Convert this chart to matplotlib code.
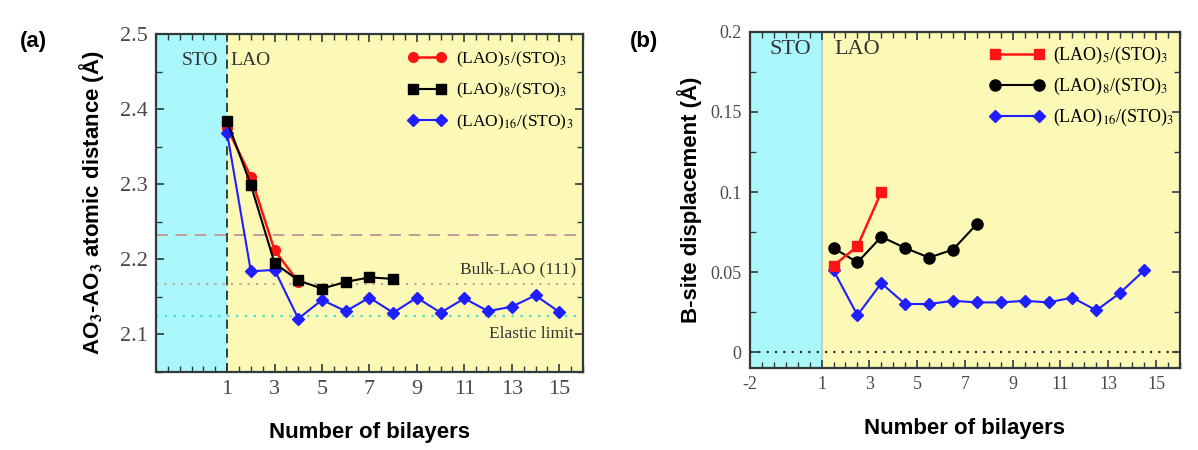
import matplotlib
matplotlib.use("Agg")
from matplotlib import pyplot as plt
from matplotlib.ticker import MultipleLocator

plt.rcParams['mathtext.fontset'] = 'stix'
plt.rcParams['axes.unicode_minus'] = False

# panel (a): AO3-AO3 atomic distance
a_x5 = [1, 2, 3, 4]
a_y5 = [2.375, 2.310, 2.212, 2.170]
a_x8 = [1, 2, 3, 4, 5, 6, 7, 8]
a_y8 = [2.384, 2.299, 2.195, 2.172, 2.161, 2.170, 2.176, 2.174]
a_x16 = list(range(1, 16))
a_y16 = [2.368, 2.184, 2.186, 2.121, 2.146, 2.131, 2.149, 2.129,
         2.149, 2.129, 2.148, 2.131, 2.137, 2.152, 2.130]
a_ref_dashed = 2.233
a_ref_bulk = 2.167
a_ref_elastic = 2.125

# panel (b): B-site displacement
b_x5 = [1.5, 2.5, 3.5]
b_y5 = [0.054, 0.066, 0.100]
b_x8 = [1.5, 2.5, 3.5, 4.5, 5.5, 6.5, 7.5]
b_y8 = [0.065, 0.056, 0.072, 0.065, 0.059, 0.064, 0.080]
b_x16 = [1.5, 2.5, 3.5, 4.5, 5.5, 6.5, 7.5, 8.5, 9.5, 10.5, 11.5, 12.5, 13.5, 14.5]
b_y16 = [0.051, 0.023, 0.043, 0.030, 0.030, 0.032, 0.031, 0.031,
         0.032, 0.031, 0.034, 0.026, 0.037, 0.051]

lab5 = r'(LAO)$_5$/(STO)$_3$'
lab8 = r'(LAO)$_8$/(STO)$_3$'
lab16 = r'(LAO)$_{16}$/(STO)$_3$'

SERIF = 'Liberation Serif'
SANS = 'Liberation Sans'
YELLOW = '#fcf8b6'
CYAN = '#a9f7fa'
EDGE = '#2f3b3b'
TICKC = '#4a4a4a'
RED = '#ff1414'
BLUE = '#1e1eff'


def style_axes(ax, tick_size):
    for s in ax.spines.values():
        s.set_color(EDGE)
        s.set_linewidth(1.6)
    ax.tick_params(which='both', direction='in', top=True, right=True, color=EDGE)
    ax.tick_params(which='major', length=6, width=1.2)
    ax.tick_params(which='minor', length=4, width=1.0)
    ax.tick_params(axis='both', labelsize=tick_size, labelcolor=TICKC, pad=6)
    for t in ax.get_xticklabels() + ax.get_yticklabels():
        t.set_fontfamily(SERIF)


fig = plt.figure(figsize=(11.98, 4.5), dpi=100)

# ---------- (a) ----------
ax1 = fig.add_axes([0.1302, 0.1733, 0.3564, 0.7511])
ax1.set_xlim(-2, 16)
ax1.set_ylim(2.05, 2.5)
ax1.axvspan(-2, 1, color=CYAN, zorder=0, lw=0)
ax1.axvspan(1, 16, color=YELLOW, zorder=0, lw=0)
ax1.axvline(1, color='#223333', ls=(0, (5, 3)), lw=1.3, zorder=1)
ax1.axhline(a_ref_dashed, color='#c49a9a', ls=(0, (6, 4)), lw=1.4, zorder=1)
ax1.axhline(a_ref_bulk, color='#c9a09a', ls=(0, (1, 3)), lw=1.5, zorder=1)
ax1.axhline(a_ref_elastic, color='#40e0d0', ls=(0, (1, 3)), lw=1.6, zorder=1)

ax1.plot(a_x5, a_y5, color=RED, marker='o', ms=7, lw=1.8, label=lab5, zorder=3)
ax1.plot(a_x8, a_y8, color='black', marker='s', ms=7, lw=1.5, label=lab8, zorder=4)
ax1.plot(a_x16, a_y16, color=BLUE, marker='D', ms=6, lw=1.5, label=lab16, zorder=3)

ax1.set_xticks([1, 3, 5, 7, 9, 11, 13, 15])
ax1.set_yticks([2.1, 2.2, 2.3, 2.4, 2.5])
ax1.xaxis.set_minor_locator(MultipleLocator(0.5))
ax1.yaxis.set_minor_locator(MultipleLocator(0.05))
style_axes(ax1, 16)

ax1.text(-0.15, 2.465, 'STO', family=SERIF, fontsize=14, color='#333333', ha='center', va='center')
ax1.text(2.0, 2.465, 'LAO', family=SERIF, fontsize=14, color='#333333', ha='center', va='center')
ax1.text(15.7, 2.186, 'Bulk-LAO (111)', family=SERIF, fontsize=12.5, color='#333333', ha='right', va='center')
ax1.text(15.6, 2.101, 'Elastic limit', family=SERIF, fontsize=12.5, color='#333333', ha='right', va='center')

ax1.legend(loc='upper right', frameon=False, numpoints=2, handlelength=2.2,
           prop={'family': SERIF, 'size': 12.5}, labelspacing=0.7,
           bbox_to_anchor=(1.015, 1.0), handletextpad=0.6)

ax1.set_xlabel('Number of bilayers', family=SANS, fontweight='bold', fontsize=16, labelpad=16)
ax1.set_ylabel(r'AO$_\mathbf{3}$-AO$_\mathbf{3}$ atomic distance (Å)', family=SANS,
               fontweight='bold', fontsize=16, labelpad=10)
fig.text(0.017, 0.895, '(a)', family=SANS, fontweight='bold', fontsize=16)

# ---------- (b) ----------
ax2 = fig.add_axes([0.626, 0.1822, 0.3589, 0.7467])
ax2.set_xlim(-2, 16)
ax2.set_ylim(-0.01, 0.2)
ax2.axvspan(-2, 1, color=CYAN, zorder=0, lw=0)
ax2.axvspan(1, 16, color=YELLOW, zorder=0, lw=0)
ax2.axvline(1, color='#b8c8c8', lw=1.2, zorder=1)
ax2.axhline(0, color='#222222', ls=(0, (1, 3)), lw=1.5, zorder=1)

ax2.plot(b_x5, b_y5, color=RED, marker='s', ms=7, lw=1.8, label=lab5, zorder=4)
ax2.plot(b_x8, b_y8, color='black', marker='o', ms=8, lw=1.5, label=lab8, zorder=3)
ax2.plot(b_x16, b_y16, color=BLUE, marker='D', ms=6, lw=1.5, label=lab16, zorder=3)

ax2.set_xticks([-2, 1, 3, 5, 7, 9, 11, 13, 15])
ax2.set_yticks([0, 0.05, 0.1, 0.15, 0.2])
ax2.set_yticklabels(['0', '0.05', '0.1', '0.15', '0.2'])
ax2.xaxis.set_minor_locator(MultipleLocator(0.5))
ax2.yaxis.set_minor_locator(MultipleLocator(0.025))
style_axes(ax2, 13)

ax2.text(-0.3, 0.189, 'STO', family=SERIF, fontsize=16, color='#333333', ha='center', va='center')
ax2.text(2.5, 0.189, 'LAO', family=SERIF, fontsize=16, color='#333333', ha='center', va='center')

ax2.legend(loc='upper right', frameon=False, numpoints=2, handlelength=3.0,
           prop={'family': SERIF, 'size': 13}, labelspacing=0.55,
           bbox_to_anchor=(1.025, 1.01), handletextpad=0.5)

ax2.set_xlabel('Number of bilayers', family=SANS, fontweight='bold', fontsize=16, labelpad=18)
ax2.set_ylabel('B-site displacement (Å)', family=SANS, fontweight='bold', fontsize=16, labelpad=6)
fig.text(0.526, 0.895, '(b)', family=SANS, fontweight='bold', fontsize=16)

fig.savefig('out.png', dpi=100, facecolor='white')
